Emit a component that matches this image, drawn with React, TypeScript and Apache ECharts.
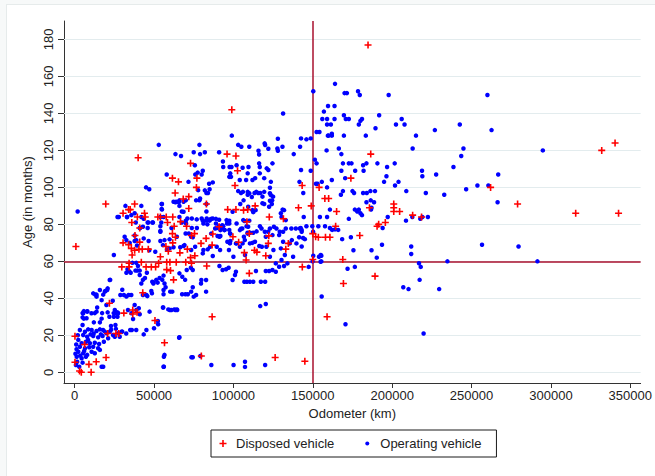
import React, { useEffect, useRef } from "react";
import * as echarts from "echarts";

// [odometer in thousand km, age in months]
const disposedVehicles: number[][] = [
  [19.6,91],[40,116],[37.8,91],[35,88],[34,88],[30.5,86],[36,81],[41,78],[38,74],[44,86],[44.5,84],[39.5,84],
  [61.6,105],[65.4,103],[63.3,97],[73,113],[71.9,95],[71.9,88.6],[76.7,100],[77,105],[83,91],[68.4,93.7],
  [54,84],[57.7,84],[61.8,84],[52.4,84],[58.5,81],[62.7,79],[66.7,81.5],[70.5,79],
  [61.6,75],[75.5,75],[82.8,72.4],[91,78.7],[87,74.8],
  [99,142],[96,118],[101.6,117],[102.6,109],[101,101],
  [96.4,88],[101.6,88],[106.4,87.7],[109,88],[108.5,81.4],[113.7,90],[122.6,84],[122.3,73.8],
  [131.5,83],[141,89],[143.3,101],[149,90],[150,75],[154,100],[160,94],[110,75],
  [184.8,177],[186.5,118],[174,105],[157.6,94],[165,87],[185.7,89],[201,91],[201,89],[201,87],[204.7,87],
  [212.9,85],[218.5,84],[262,100],[279,91],[315.6,86],[332,120],[340.4,124],[342.6,86],[164.4,79],
  [195.7,81],[191.5,80],[190.5,79],[179.6,74],[158,73],[160.8,73],[153.5,73],
  [150,61],[143.4,57],[168.9,61],[169.3,48],[189.2,52],[159,30],[145,6],
  [0.8,68],[0.2,19.5],[0.2,5.4],[3.1,0.7],[4.2,0],[10.4,0],[9,4.3],[13.6,5.7],[19.8,8],[6.3,15],[20.8,21],
  [27.8,21],[26,21],[56.6,16],[50.6,28],[31,32],[36.6,33.7],[36.6,31.5],[39.3,32.4],[42.9,43],[21.9,37.3],
  [29.7,57],[34.3,57],[34.3,59],[36.2,63.4],[42,59.5],[45,57],[48.3,57],[51,57],[52.9,59],[58,59.5],[60,59.5],
  [64,59.5],[70,59.5],[73.6,59],[73,62],[58,55.5],[62.3,50],[60.4,55],
  [30.5,70],[34,69],[35.7,67],[37.8,66],[40.5,66.5],[41,70.4],[42.6,66.6],[46.4,66.6],[54,62.5],[57.5,68],
  [59,65.5],[61.8,70],[63.5,73],[66.3,64.6],[71,66.6],[75.7,63],[79.6,69.7],[83.2,57.5],[86.6,68.8],
  [99.7,73.3],[103.3,70.3],[106.9,64.7],[108,60.7],[110,53.5],[113.3,66],[114.8,65],[120.4,63],[122,69.7],
  [133,66.6],[134.6,69.7],[151.8,73.3],[86.6,30],[79.8,8.8],[126.3,8],[73.6,74]
];

const operatingVehicles: number[][] = [
  [1.9,87],[53,123],[45,100],[47,99],[27,84],[32,90],[33,84],[42,90],[42,84],[43.5,83],[38.5,81],[41,78],[46,81],
  [49,81],[46,78],[55,91],[55,88],[54,84],[56,84],[54,79],[54,76],[58,107],[63.5,118],[67,117],[63.5,92],[61,78],
  [66,93],[66,90],[67.5,87],[70,82],[67.5,81],[66,84],[70,93],[75,119],[78.6,123],[79,118],[82,119],[75.7,112],
  [76,107],[77.5,108],[80,107],[80.7,109],[73.8,78],[77,78],[74.4,73],[78.6,93],[79,94],[76.5,93],[77.8,98.5],
  [82,98.4],[83,97],[84,97],[85,99],[87,102.7],[84.7,102],[83,91],[83,87],[82.8,82],[83.6,80],[80.7,82],[85,82],
  [86,83],[89,83],[91,82.5],[91,79],[92.6,78],[93.6,79],[96,80.5],[97.4,82],[97.4,77],[86,75],[89.5,78],[90,73.7],
  [91.8,73.7],[94.5,77],[98,75],[93,79.5],[91,119],[93.4,114],[93.6,111],[97.6,111],[98.8,111],[98.5,105.7],
  [97.4,105.7],[98,107.6],[99,128],[103,123],[105,122],[110,122],[102,112],[105.8,110.6],[109.5,111],[109,107.6],
  [104,104],[108,104],[112,104],[113.7,105],[103,98],[104.8,97],[106,97.6],[109,97.6],[110,96.8],[109,96],
  [111.6,94.8],[106.4,93],[104.3,91],[109.3,89.5],[112,87.7],[114,87.7],[112.5,86.6],[107,81.8],[110,82],
  [109.3,78.7],[109,75],[104.8,77.6],[106.6,73.3],[113.3,97],[114.4,97.6],[115.6,97],[116.9,97],[118.3,95],
  [119.4,97.6],[115.8,119.8],[116.2,117.8],[116.2,113],[116.6,111],[116.6,107.6],[119.7,123.8],[120,122.9],
  [122,120.9],[121,110.3],[122,109.4],[119.4,105],[123.6,103],[123,99.8],[123,96.8],[123.6,95.8],[125,95],
  [123,92.8],[124.4,93],[124.2,91],[122.5,89.5],[119.4,91],[118.3,91.4],[128,126.3],[127.7,121],[130.9,122],
  [128,119.8],[131.3,140],[124.6,113],[131,88],[131.9,87.7],[129.9,86],[130.3,84],[133,82.3],[138,118],
  [142.6,126.5],[142,122],[141.6,103],[142.6,109.4],[144,97],[144.3,84],[148.7,126.5],[148.7,109],[150.3,152],
  [151.3,115],[152.4,113],[152,102],[153,102],[155.7,103],[159,84],[154.2,130],[157,141],[156,137],[159,137],
  [159.6,144],[161.4,134],[162,128],
  [164,156],[170,151],[171.5,151],[178.5,152],[179.6,150],[197.8,150],[260,150],[163.7,144],[169.6,139],
  [170.8,137],[172.7,137],[163.7,137],[181,137],[180,136],[179,134],[191.8,139],[206,137],[202.4,134],
  [207.8,134],[189.5,132],[159,134],[152.4,130],[159.5,128],[160,128],[162,129],[169.6,128],[183.4,128],
  [215,128],[226.9,131],[242.6,134],[262.6,131],[212.9,121],[244.9,121],[243.5,117],[294.9,120],[146,126],
  [158.7,120],[166.4,121],[168,118],[169,113],[172.7,113],[174.4,113],[181.7,112],[183.8,113],[190.7,113],
  [201.6,113],[196.8,111],[196.4,106],[194.9,103],[168,109],[176.7,109],[182,109],[170.4,105],[162,104],
  [201.8,101],[204,103],[218.8,109],[219,106],[227.7,107],[238.6,111],[266.8,107],[253.7,101],[260.6,101],
  [246.6,99],[232.8,96],[221.2,97],[208.9,98],[266.4,92],[169,98],[167.7,96],[175,98],[176,97],[181.7,97],
  [184,97],[186.3,98],[189.2,98],[183.8,92],[186.5,93],[188.6,92],[159,100],[160.8,88],[176.5,88],[178,87],
  [180,86],[181,85],[179,88],[186.7,88],[187,89],[154.5,84],[172.7,83],[197.2,84],[208.7,82],[212.7,84],
  [217.7,83],[219,84],[222.5,84],[194,78],[142.4,78],[146,79],[149.7,79],[153.5,79],[157.7,79],[160.8,78],
  [162.2,77],[164,77.3],[166,77],[150.2,76],[143,77],[143.9,72.6],[145,72],[168.5,72],[174,73],
  [143,68],[147.4,57],[150.3,63],[149.9,60],[155.4,63],[155.4,60],[155.6,41],[175.6,66],[171.9,56],[176.5,57],
  [187,66],[190.3,62],[193.6,69],[212,68],[212,64],[216.9,59],[218,57],[217.3,50],[207,46],[210.3,45],
  [229.6,45],[234.8,60],[256.6,69],[279.6,68],[291.5,60],[170.6,26],[219.8,21],
  [24.7,63.4],[22.4,50],[20.8,45.4],[19.3,44],[18,42],[13.8,42],[13,42],[14.2,35],[5,32],[8,33],[5.8,29],
  [12.7,32],[17.3,32],[12.1,27],[15.9,27],[17,29],[20.8,32.4],[21.9,30],[24.6,32],[26.1,32],[27,32.4],
  [24.7,30],[27,30],[25.7,25.6],[22.9,25],[28.8,41.8],[31,41.8],[34,41.8],[35.7,41.8],[32.6,41],[24,38.7],
  [30,44.6],[40.4,34.6],[41,31.4],[47.2,32.8],[43,41.8],[45.2,41.8],[48.7,42.7],[52.6,26],[52.4,27.7],
  [55.8,35],[59,34],[62.8,34],[64.4,34],[35,22.9],[36,22.9],[38.8,22.9],[36.8,28.8],[43.5,20.5],[56.6,9.4],
  [56,3],[65.8,18.7],[73.6,8.1],[18,3],
  [32.6,53.8],[33.3,55.7],[34.3,54.7],[35.3,53.8],[38.3,55],[39.5,55],[41,55],[41,52.6],[36.4,59.2],
  [38.8,59.2],[39.9,57.5],[42,48],[43,50],[44.3,51],[45.5,53.8],[45.8,41.2],[48.3,44],[49.6,48],[51.4,50],
  [48.9,49],[49.7,48.5],[52.3,48.5],[53.5,51],[55.2,50],[56,52.3],[56.6,48],[56,42.2],[56,44.5],[57.3,46],
  [60,33.7],[61,33.7],[63.5,33.7],[64.6,33.7],[60.2,43.6],[61.5,43.6],[55.6,35],[66,53.5],[67.8,51.7],
  [69.6,50],[70.6,55.3],[73.2,56.5],[74.4,55.3],[74.4,46],[75,40.9],[76.5,41.8],[79.8,49.9],[82.8,49.9],
  [79.6,48],[82.8,43.6],[66,19],[73.4,43.6],[71.3,42.2],[69.8,42.2],[67.7,42.2],[74.4,8.1],[79.2,8.8],
  [86.1,3.9],[100.1,3.9],[107.3,5.7],[107.3,2.9],[120,3.9],[56.2,8.4],[56.2,3],[116.9,35.8],[120.4,36.9],
  [87,62.9],[91.2,57.5],[93.2,55.3],[95.4,55.7],[97,56.5],[99.5,49.9],[101,52.6],[101.6,54.4],[106.9,49],
  [108.5,49],[110.4,49],[112.5,49],[117.3,49],[120,49],[114.2,54.8],[120.4,54.8],[122.5,54.8],[124.6,55.3],
  [126.7,54.4],[126.7,58.9],[128.8,57.1],[131.9,57.5],[134,58.9],[153.9,62.5],[154.9,59.8],
  [27.8,84],[33,84],[35.7,85],[37.8,86],[46.4,81],[49.3,81],[41.2,78],[43,78.7],[31.5,73.3],[32.6,71.5],
  [37.8,74],[37.8,71],[39.3,68.6],[46.6,71],[47,66],[50.8,65.2],[54,71],[54,76.4],[54.6,81],[54.8,91],
  [54.8,88.4],[62.3,92.2],[64,92.2],[65.6,91.9],[68.6,92.2],[71.7,103],[68.6,86.8],[70.2,80.5],[71,83.2],
  [73.8,83.2],[76.9,82.7],[80,83.2],[81.1,80.5],[83.2,83.2],[85.5,82.7],[87,83.2],[89,80.5],[88.5,77.8],
  [91.8,76.9],[94.3,76.9],[95.7,82.3],[97.4,80.5],[99.5,86.8],[97.9,75.1],[102,80.5],[104.1,76.9],
  [105.6,77.8],[106.2,82.3],[108.3,79],[108.9,75.5],[110.6,75.5],[112.5,75.5],[114.6,76.2],[116.7,79],
  [117.7,77.8],[119.8,76],[121.9,76],[123,77.8],[125.5,78.7],[127.1,77.8],[129.2,76],[131.3,76],[133,77.8],
  [136.5,77.8],[139.3,77.8],[141.8,77.8],[143,76],[139.7,69.7],[135.5,69.7],[131.3,70.6],[128.8,74.2],
  [124.6,74.2],[120.8,67.9],[117.9,67.9],[113.6,70.6],[110.4,69.7],[107.2,71.5],[104.1,67.9],[102,69.7],
  [97.8,69.7],[96.2,70.6],[91.6,66.1],[89.5,67.9],[85.3,67.9],[81.1,66.1],[75.9,67.9],[68.6,68.3],
  [66.5,67.6],[62.3,67.6],[58.1,66.5],[56.6,71.5],[59.8,71.9],[64.4,73.3],[69.9,75.1],[71.9,75.1],
  [73.4,73.3],[123,62.5],[130.3,60.7],[137.6,62.5],[107.3,63.4],[100,62.5],[97.2,66.1],
  [34.7,70],[38.8,71.5],[43.5,72.4],[55.6,68.8],[59.8,67],[69.2,68.8],[73.4,66.1],[80.7,64.3],[83.8,66.5],
  [91.2,73.3],[98.1,71],[101.6,69.7],[105.8,69.7],[112,70],[116.3,68.3],[120.4,73.3],[125.2,66.1],
  [129.9,67],[132.4,63.4],[136.8,71.5],[141.4,73],[155,63.4],
  [11.7,42.7],[15.9,44.5],[19,43.6],[22.1,49.9],[20.5,44.5],[13.8,40.9],[17,39],[20,36.4],[25.3,33.7],
  [27.4,31.9],[33.6,33.7],[35.8,31.9],[37.8,36.4],[38.9,33.7],[45.2,22.9],[50,23.8],[5.4,31.9],[7.5,29.2],
  [5,25.6],[10.6,31.9],[13.8,32.8],
  [3.3,22.9],[6.5,21.9],[8.5,23.2],[10.7,22.9],[13.8,22.3],[15.9,23.2],[17.9,22.9],[20.1,21.1],[22.1,21.9],
  [24.2,20.2],[27.4,21.1],[29.5,21.9],[5.4,20.2],[7.9,19.2],[11.7,19.6],[14.8,18.9],[17.6,19.6],[21.1,18.4],
  [25.3,19.2],[28.4,19.2],[2.3,17.5],[4.4,15.7],[7.1,16.5],[9.6,15.7],[12.7,16],[15.4,15.3],[18.4,16.5],
  [3.3,13.8],[6.5,13],[9.2,13.5],[11.7,13.8],[14.8,13],[2.3,11.1],[5.4,10.3],[7.9,9.4],[10.7,11.1],[1.3,8.4],
  [4.4,7.6],[7.1,8.4],[1.6,5.7],[5,5.2],[0.8,3.9],[2.9,3],[12.7,10.3],[15.9,12.1],[17,3],[5,29.7],[5.8,33.1],
  [7.9,32.8],[1,15],[2,20],[0.5,10],[1.2,12.5],[3.5,9],[6,11.5],[8.5,17.5],[10,20.5],[12,21],[16.5,20.5],
  [19,22],[23,23],[26,23.5],[30,22],[32.5,21]
];

const xTickValues = [0, 50000, 100000, 150000, 200000, 250000, 300000, 350000];
const yTickValues = [0, 20, 40, 60, 80, 100, 120, 140, 160, 180];
const referenceOdometer = 150000;
const referenceAge = 60;

const FONT = "'Liberation Sans', Arial, Helvetica, sans-serif";
const PLUS_SYMBOL = "path://M2.7,0H4.3V2.7H7V4.3H4.3V7H2.7V4.3H0V2.7H2.7Z";
const PLUS_ICON = "path://M0,0M16,15M7.2,4H8.8V6.7H11.5V8.3H8.8V11H7.2V8.3H4.5V6.7H7.2Z";
const DOT_ICON = "path://M0,0M16,15M6,7.5A2,2,0,1,0,10,7.5A2,2,0,1,0,6,7.5Z";

export default function App() {
  const ref = useRef<HTMLDivElement>(null);

  useEffect(() => {
    document.body.style.margin = "0";
    if (!ref.current) return;
    const chart = echarts.init(ref.current, undefined, { renderer: "svg" });
    const toKm = (rows: number[][]) => rows.map(([k, m]) => [k * 1000, m]);
    const plain = (v: number) => String(v);

    chart.setOption({
      animation: false,
      textStyle: { fontFamily: FONT },
      grid: { left: 64, top: 21, right: 12, bottom: 93, containLabel: false },
      xAxis: {
        type: "value",
        min: -6700,
        max: 356500,
        name: "Odometer (km)",
        nameLocation: "middle",
        nameGap: 22,
        nameTextStyle: { fontSize: 13, color: "#222", fontFamily: FONT },
        axisLine: { show: true, onZero: false, lineStyle: { color: "#333", width: 1 } },
        axisTick: { show: true, length: 5, customValues: xTickValues, lineStyle: { color: "#333" } },
        axisLabel: { customValues: xTickValues, formatter: plain, fontSize: 13, color: "#222", margin: 6, fontFamily: FONT },
        splitLine: { show: false },
      },
      yAxis: {
        type: "value",
        min: -5.8,
        max: 190,
        name: "Age (in months)",
        nameLocation: "middle",
        nameGap: 25,
        nameTextStyle: { fontSize: 13, color: "#222", fontFamily: FONT },
        axisLine: { show: true, onZero: false, lineStyle: { color: "#333", width: 1 } },
        axisTick: { show: true, length: 6, customValues: yTickValues, lineStyle: { color: "#333" } },
        axisLabel: { customValues: yTickValues, formatter: plain, rotate: 90, fontSize: 13, color: "#222", margin: 9, fontFamily: FONT },
        splitLine: { show: false },
      },
      legend: {
        left: 211,
        top: 430,
        orient: "horizontal",
        padding: [6, 15, 6, 4],
        itemGap: 25,
        itemWidth: 16,
        itemHeight: 15,
        borderColor: "#1a1a1a",
        borderWidth: 1,
        borderRadius: 0,
        backgroundColor: "#fff",
        textStyle: { fontSize: 13, color: "#222", fontFamily: FONT },
        data: [
          { name: "Disposed vehicle", icon: PLUS_ICON },
          { name: "Operating vehicle", icon: DOT_ICON },
        ],
      },
      series: [
        {
          name: "gridlines",
          type: "scatter",
          data: [],
          silent: true,
          markLine: {
            silent: true,
            symbol: "none",
            z: 1,
            label: { show: false },
            lineStyle: { color: "#e3ecee", width: 1, type: "solid" },
            data: yTickValues.map((v) => ({ yAxis: v })),
          },
        },
        {
          name: "reference",
          type: "scatter",
          data: [],
          silent: true,
          markLine: {
            silent: true,
            symbol: "none",
            z: 2,
            label: { show: false },
            lineStyle: { color: "#a8102e", width: 1.5, type: "solid" },
            data: [{ xAxis: referenceOdometer }, { yAxis: referenceAge }],
          },
        },
        {
          name: "Operating vehicle",
          type: "scatter",
          z: 3,
          symbol: "circle",
          symbolSize: 4.5,
          itemStyle: { color: "#0000ff", opacity: 1 },
          data: toKm(operatingVehicles),
        },
        {
          name: "Disposed vehicle",
          type: "scatter",
          z: 4,
          symbol: PLUS_SYMBOL,
          symbolSize: 7,
          itemStyle: { color: "#ff0000", opacity: 1 },
          data: toKm(disposedVehicles),
        },
      ],
    });

    return () => chart.dispose();
  }, []);

  return (
    <div style={{ position: "relative", width: 655, height: 476, background: "#f7f9f9", overflow: "hidden" }}>
      <div
        style={{
          position: "absolute",
          left: 6,
          top: 4,
          width: 649,
          height: 472,
          background: "#fff",
          borderLeft: "1px solid #e6ebeb",
          borderTop: "1px solid #e6ebeb",
        }}
      />
      <div ref={ref} style={{ position: "absolute", left: 0, top: 0, width: 655, height: 476 }} />
    </div>
  );
}
